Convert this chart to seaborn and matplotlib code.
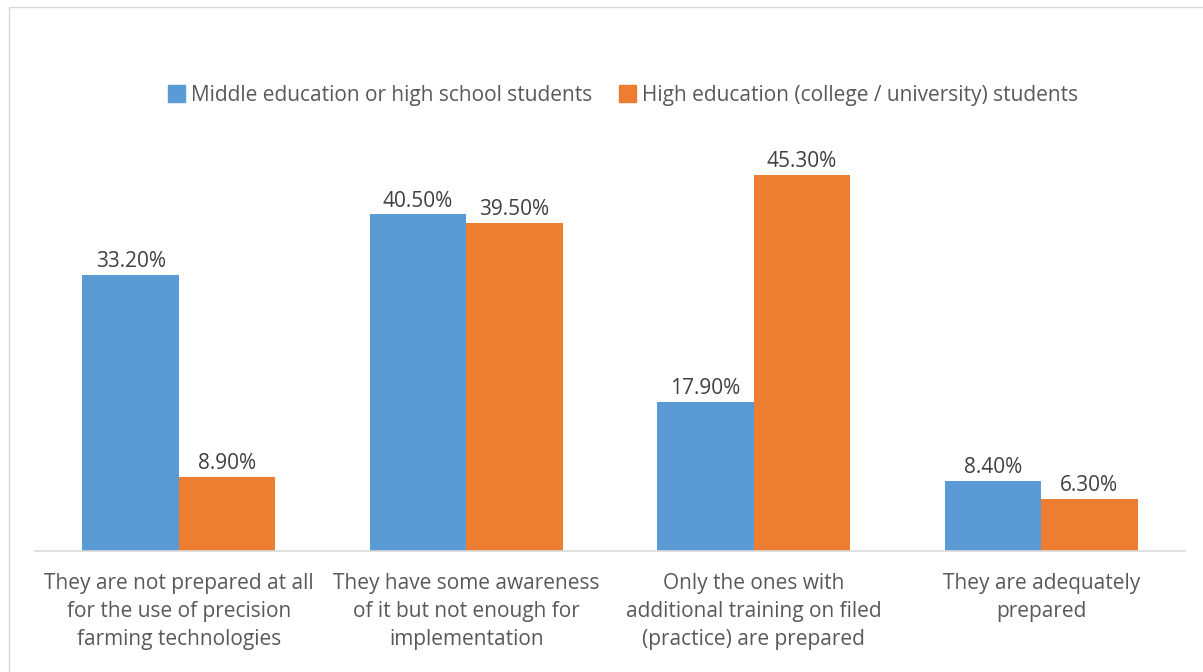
import matplotlib
matplotlib.use("Agg")
import matplotlib.pyplot as plt
import seaborn as sns
import pandas as pd
from matplotlib.patches import Rectangle

categories = [
    "They are not prepared at all\nfor the use of precision\nfarming technologies",
    "They have some awareness\nof it but not enough for\nimplementation",
    "Only the ones with\nadditional training on filed\n(practice) are prepared",
    "They are adequately\nprepared",
]
series_names = [
    "Middle education or high school students",
    "High education (college / university) students",
]
middle_values = [33.2, 40.5, 17.9, 8.4]
high_values = [8.9, 39.5, 45.3, 6.3]

colors = ["#5B9BD5", "#ED7D31"]

df = pd.DataFrame({
    "category": categories * 2,
    "group": [series_names[0]] * 4 + [series_names[1]] * 4,
    "value": middle_values + high_values,
})

sns.set_theme(style="white")
plt.rcParams["font.family"] = ["Open Sans", "DejaVu Sans"]

W, H = 1203, 672
fig = plt.figure(figsize=(W / 100, H / 100), dpi=100)
ax = fig.add_axes([35 / W, 121 / H, 1150 / W, 415.5 / H])

sns.barplot(data=df, x="category", y="value", hue="group",
            palette=colors, width=0.67, gap=0, saturation=1,
            edgecolor="none", ax=ax, legend=False)

ax.set_ylim(0, 50)
ax.set_xlim(-0.5, 3.5)
ax.set_xlabel("")
ax.set_ylabel("")
ax.set_yticks([])
for s in ["top", "right", "left"]:
    ax.spines[s].set_visible(False)
ax.spines["bottom"].set_color("#D9D9D9")
ax.spines["bottom"].set_linewidth(1.2)
ax.tick_params(axis="x", length=0, pad=16, labelsize=15, labelcolor="#595959")
for lbl in ax.get_xticklabels():
    lbl.set_linespacing(1.44)

for container in ax.containers:
    labels = [f"{v:.2f}%" for v in container.datavalues]
    ax.bar_label(container, labels=labels, padding=2, fontsize=15, color="#404040")

# Legend
handles = [Rectangle((0, 0), 1, 1, color=c) for c in colors]
fig.legend(handles, series_names, loc="center", bbox_to_anchor=(0.518, 1 - 95 / H),
           ncol=2, frameon=False, fontsize=15, labelcolor="#595959",
           handlelength=0.8, handleheight=0.9, handletextpad=0.3, columnspacing=1.3)

# Chart area frame
fig.patches.append(Rectangle((9 / W, -0.1), 1.2, 1 - 7 / H + 0.1, transform=fig.transFigure,
                             fill=False, edgecolor="#D9D9D9", linewidth=1.0))

fig.savefig("out.png", dpi=100, facecolor="white")
